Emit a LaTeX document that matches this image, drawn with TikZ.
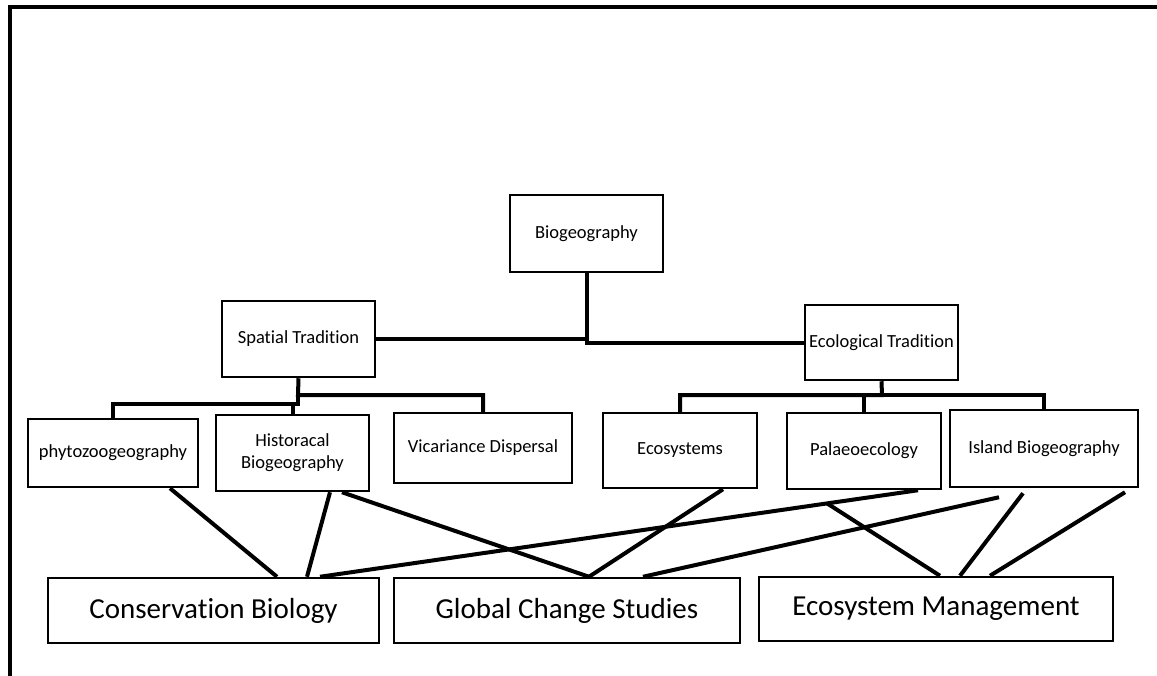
\documentclass[tikz,border=0pt]{standalone}
\usepackage{fontspec}
\setmainfont{Carlito}[Ligatures=NoCommon]
\usetikzlibrary{calc}
\begin{document}
\begin{tikzpicture}[x=1pt,y=-1pt,
  sbox/.style={draw,line width=2.5pt,inner sep=0pt,align=center,font=\fontsize{18.5}{22}\selectfont},
  lbox/.style={draw,line width=2.5pt,inner sep=0pt,align=center,font=\fontsize{29}{34}\selectfont},
  conn/.style={line width=4pt},
  frame/.style={line width=3.5pt}]
\useasboundingbox (0,0) rectangle (1157,675);
% frame
\coordinate (fb) at (10,676);
\coordinate (fc) at (10,7);
\coordinate (fr) at (1158,7);
\draw[frame] (fb) -- (fc) -- (fr);
% nodes
\node[sbox,minimum width=153pt,minimum height=77pt] (bio) at (586.5,233.5) {Biogeography};
\node[sbox,minimum width=153pt,minimum height=76pt] (spatial) at (298.5,339) {Spatial Tradition};
\node[sbox,minimum width=153pt,minimum height=75pt] (eco) at (881.5,342.5) {Ecological Tradition};
\node[sbox,minimum width=170pt,minimum height=68pt] (phyto) at (113,453) {phytozoogeography};
\node[sbox,minimum width=153pt,minimum height=76pt] (hist) at (292.5,453) {Historacal\\Biogeography};
\node[sbox,minimum width=178pt,minimum height=70pt] (vic) at (483,448) {Vicariance Dispersal};
\node[sbox,minimum width=154pt,minimum height=75pt] (ecos) at (680,450.5) {Ecosystems};
\node[sbox,minimum width=154pt,minimum height=76pt] (palaeo) at (864,451) {Palaeoecology};
\node[sbox,minimum width=188pt,minimum height=77pt] (island) at (1044,448.5) {Island Biogeography};
\node[lbox,minimum width=331pt,minimum height=65pt] (cons) at (213.5,610.5) {Conservation Biology};
\node[lbox,minimum width=346pt,minimum height=65pt] (gcs) at (567,610.5) {Global Change Studies};
\node[lbox,minimum width=354pt,minimum height=64pt] (em) at (936,609) {Ecosystem Management};
% tree connectors
\draw[conn] (bio.south) |- (spatial.east);
\draw[conn] (bio.south) |- (eco.west);
\coordinate (sj) at (298,395);
\coordinate (sk) at (298,404);
\draw[conn] (spatial.south) -- (sj) -| (vic.north);
\draw[conn] (phyto.north) |- (sk) -- (sj);
\draw[conn] (hist.north) -- (hist.north |- sk);
\coordinate (ej) at (882,395);
\draw[conn] (eco.south) -- (ej) -| (ecos.north);
\draw[conn] (ej) -| (island.north);
\draw[conn] (palaeo.north) -- (palaeo.north |- ej);
% cross connectors
\draw[conn] (phyto.south -| 170,0) -- (cons.north -| 277,0);
\draw[conn] (hist.south -| 330,0) -- (cons.north -| 307,0);
\draw[conn] (hist.south -| 342,0) -- (gcs.north -| 589,0);
\draw[conn] (ecos.south -| 723,0) -- (gcs.north -| 589,0);
\coordinate (p1) at (palaeo.south -| 918,0);
\coordinate (c1) at (cons.north -| 320,0);
\draw[conn] (p1) -- (c1);
\coordinate (br) at ($(p1)!0.152!(c1)$);
\draw[conn] (br) -- (em.north -| 940,0);
\coordinate (i6) at ($(island.south -| 999,0)+(0,9)$);
\draw[conn] (i6) -- (gcs.north -| 643,0);
\coordinate (i8) at ($(island.south -| 1023,0)+(0,5)$);
\draw[conn] (i8) -- (em.north -| 960,0);
\coordinate (i9) at ($(island.south -| 1125,0)+(0,4)$);
\draw[conn] (i9) -- (em.north -| 990,0);
\end{tikzpicture}
\end{document}
